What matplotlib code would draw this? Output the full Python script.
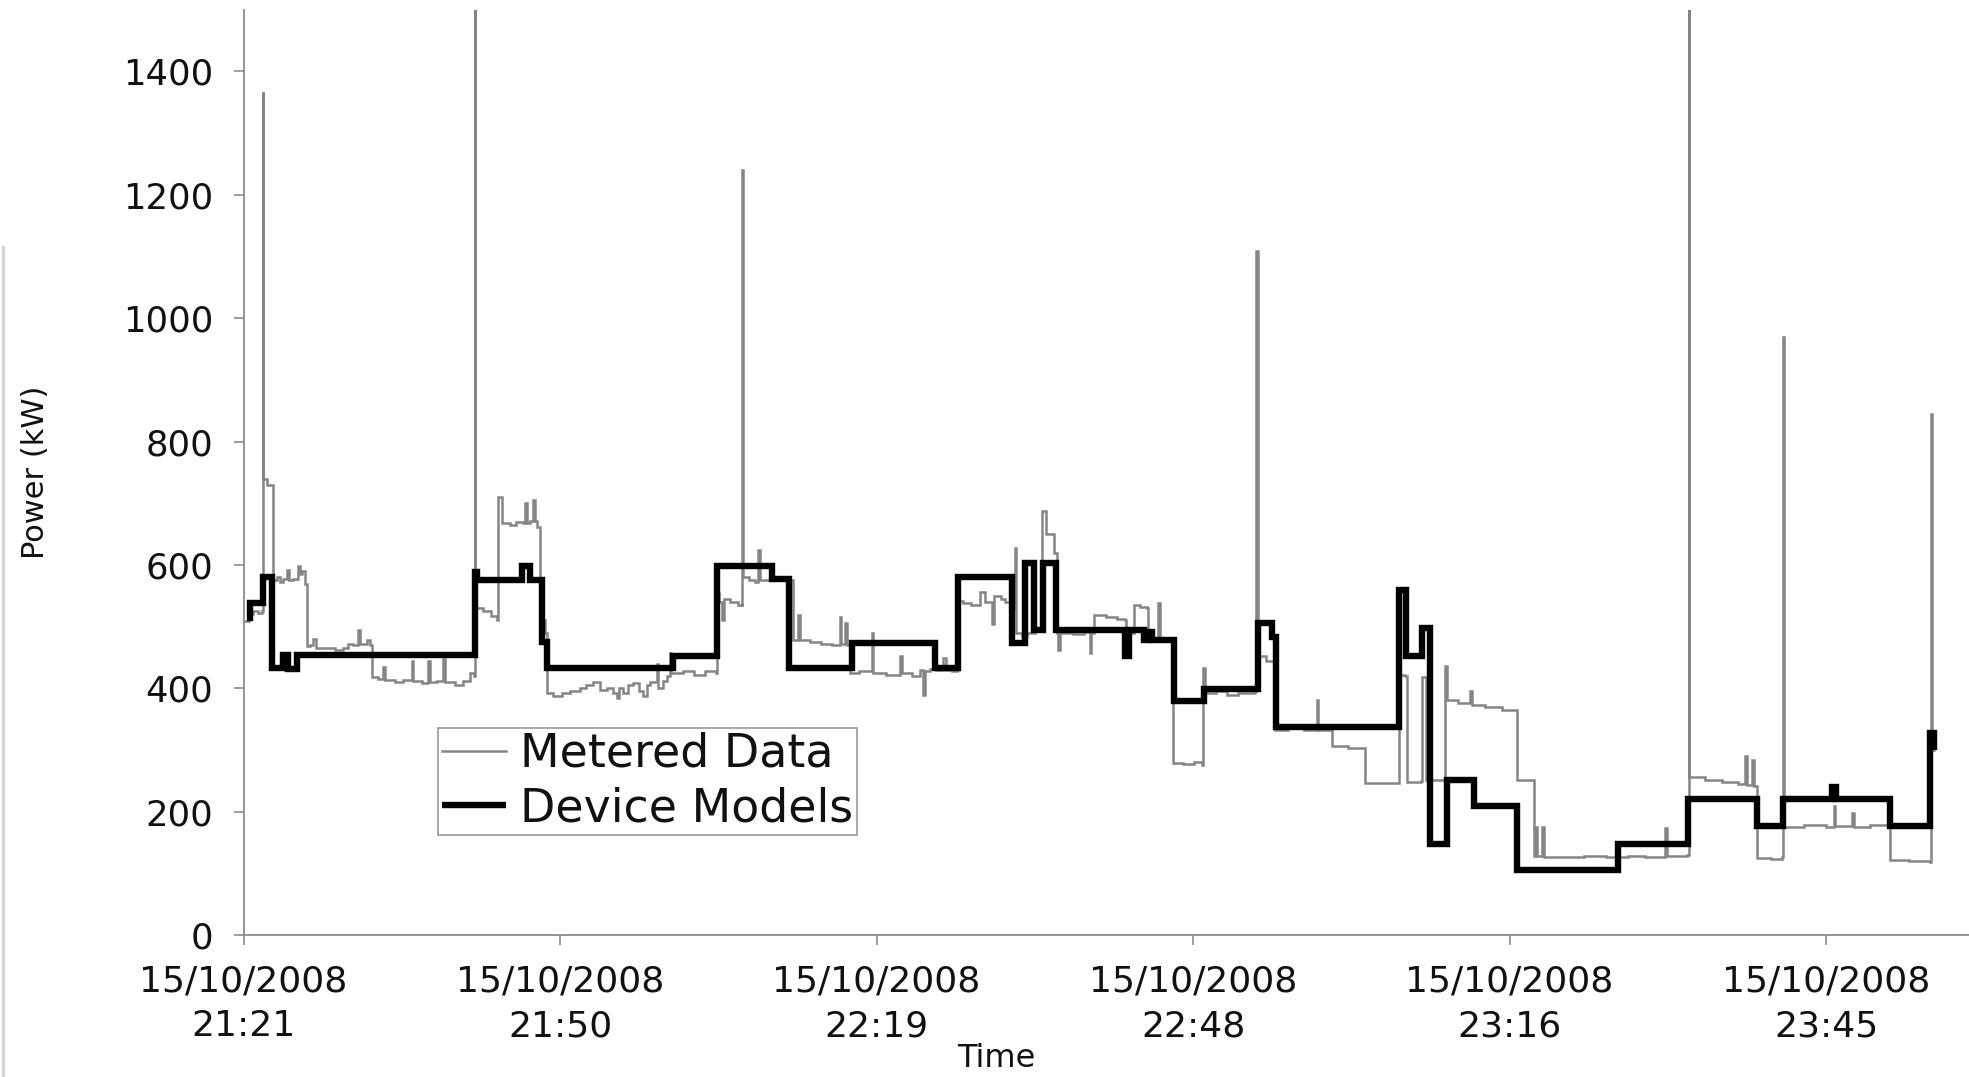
import matplotlib
matplotlib.use('Agg')
import matplotlib.pyplot as plt
import matplotlib.dates as mdates
import pandas as pd
from matplotlib.lines import Line2D

# ---------------- data (minutes after 15/10/2008 21:21:36, kW) ----------------
start_time = '2008-10-15 21:21:36'

metered_min = [
    0.1, 0.5, 0.9, 1.3, 1.70, 1.73, 1.76, 2.1, 2.7, 2.72, 3.0, 3.3, 3.6, 3.92, 4.1, 4.5,
    4.98, 5.1, 5.28, 5.59, 5.74, 6.0, 6.35, 6.6, 7.5, 8.3, 9.08, 9.5, 10.0, 10.44, 10.6,
    11.2, 11.5, 11.66, 12.2, 12.72, 12.9, 13.8, 14.5, 15.3, 15.45, 16.2, 16.81, 16.95,
    17.6, 18.18, 18.35, 19.2, 20.0, 20.6, 21.0, 21.06, 21.1, 21.8, 22.5, 23.03, 23.18,
    23.49, 24.2, 24.8, 25.46, 25.61, 25.8, 26.1, 26.37, 26.5, 26.67, 27.0, 27.13, 27.4,
    27.58, 28.2, 29.0, 29.7, 30.62, 31.2, 31.83, 32.4, 33.04, 33.6, 33.95, 34.2, 34.56,
    35.0, 35.47, 36.0, 36.38, 36.7, 36.99, 37.59, 37.7, 38.2, 38.5, 38.81, 38.9, 40.0,
    41.0, 42.0, 43.0, 43.05, 43.3, 43.51, 43.7, 44.3, 45.0, 45.33, 45.39, 45.45, 46.0,
    46.5, 46.85, 47.0, 48.0, 49.73, 50.03, 50.49, 50.6, 51.5, 52.5, 53.5, 54.28, 54.4,
    54.74, 54.9, 55.19, 56.0, 57.16, 57.3, 58.5, 59.74, 59.9, 60.8, 61.56, 61.86, 62.0,
    62.5, 63.0, 63.68, 63.9, 64.5, 64.9, 65.05, 65.5, 66.2, 67.02, 67.5, 68.08, 68.3,
    68.9, 69.3, 69.75, 70.2, 70.3, 70.8, 71.27, 72.0, 72.63, 73.0, 73.7, 74.0, 74.15,
    74.3, 75.5, 76.5, 77.03, 77.15, 77.34, 78.5, 79.5, 80.22, 80.25, 80.98, 81.6, 82.19,
    82.3, 83.25, 83.4, 84.0, 84.46, 84.6, 85.5, 86.5, 87.19, 87.34, 87.45, 88.5, 89.5,
    90.5, 91.5, 92.05, 92.14, 92.3, 93.0, 93.72, 93.87, 95.0, 96.5, 97.66, 97.8, 98.5,
    99.02, 100.5, 102.0, 102.06, 103.5, 105.0, 105.09, 105.7, 105.86, 107.1, 107.22,
    107.5, 107.6, 108.3, 109.34, 109.35, 109.5, 110.5, 111.62, 111.77, 113.0, 114.5,
    115.86, 115.9, 117.2, 117.39, 117.54, 117.7, 118.14, 118.3, 120.0, 122.0, 124.0,
    126.0, 127.5, 129.37, 129.5, 131.3, 131.49, 131.55, 133.0, 134.5, 136.0, 136.65,
    136.8, 137.25, 137.4, 137.71, 137.75, 139.0, 139.98, 140.07, 140.15, 142.0, 144.0,
    144.69, 144.8, 146.36, 146.5, 148.0, 149.8, 149.84, 151.5, 153.45, 153.54, 153.6,
    153.8]
metered_kw = [
    510, 520, 525, 522, 525, 1367, 740, 730, 727, 575, 580, 572, 578, 592, 575, 578,
    598, 585, 590, 570, 468, 470, 480, 466, 465, 463, 466, 472, 470, 495, 472,
    478, 470, 419, 415, 435, 414, 410, 413, 444, 412, 408, 444, 410,
    412, 447, 410, 405, 412, 425, 420, 1620, 530, 525, 518, 511, 711,
    668, 665, 670, 668, 700, 668, 672, 706, 672, 662, 560, 511, 489,
    392, 388, 392, 395, 400, 405, 410, 398, 400, 392, 385, 400, 392,
    405, 408, 395, 388, 405, 410, 440, 400, 412, 420, 457, 425, 428,
    422, 428, 425, 554, 540, 511, 545, 540, 535, 533, 1241, 580, 575,
    572, 625, 575, 578, 575, 479, 519, 478, 475, 472, 470, 516, 472,
    506, 470, 425, 428, 490, 425, 422, 452, 425, 420, 430, 390, 428,
    432, 430, 449, 430, 428, 430, 541, 538, 535, 557, 540, 505, 550,
    545, 540, 530, 627, 490, 485, 490, 495, 687, 650, 619, 490, 463,
    490, 488, 492, 457, 490, 519, 515, 512, 511, 490, 535, 532, 530,
    479, 538, 479, 480, 479, 279, 277, 280, 276, 433, 392, 395, 390,
    393, 392, 395, 1109, 452, 445, 441, 333, 335, 333, 381, 333, 332,
    306, 304, 303, 246, 247, 246, 422, 420, 249, 250, 419,
    418, 252, 252, 252, 436, 381, 376, 395, 373, 370, 365,
    363, 252, 252, 128, 176, 128, 176, 126, 127, 128, 126,
    128, 127, 174, 128, 130, 1620, 257, 252, 248, 245, 290,
    244, 284, 241, 240, 125, 124, 126, 970, 176, 178, 176,
    209, 177, 198, 176, 178, 176, 122, 120, 118, 844, 300,
    305]

device_min = [0.27, 0.57, 1.79, 2.56, 3.60, 4.07, 4.83, 21.06, 21.26, 25.30, 26.06,
              27.13, 27.59, 39.11, 43.05, 48.06, 49.67, 55.34, 62.93, 65.05, 69.94,
              71.09, 71.89, 72.75, 73.94, 80.17, 80.57, 81.89, 82.29, 82.63, 84.62,
              87.35, 92.29, 93.57, 93.94, 105.10, 105.79, 107.22, 107.98, 109.50,
              111.98, 115.86, 125.10, 131.46, 137.71, 140.11, 144.5, 144.9, 149.83,
              153.49, 153.8]
device_kw = [514, 538, 581, 433, 454, 432, 454, 588, 576, 598, 576,
             476, 433, 452, 599, 577, 433, 474, 433, 581, 473,
             603, 495, 603, 495, 452, 495, 479, 492, 479, 379,
             399, 506, 484, 338, 560, 452, 498, 147, 252,
             209, 105, 147, 220, 177, 220, 240, 220, 177,
             328, 300]

tick_times = ['2008-10-15 21:21:36', '2008-10-15 21:50:24', '2008-10-15 22:19:12',
              '2008-10-15 22:48:00', '2008-10-15 23:16:48', '2008-10-15 23:45:36']
y_ticks = [0, 200, 400, 600, 800, 1000, 1200, 1400]
series_names = ['Metered Data', 'Device Models']
x_title = 'Time'
y_title = 'Power (kW)'

# ---------------- build ----------------
t0 = pd.Timestamp(start_time)
metered_time = (t0 + pd.to_timedelta(metered_min, unit='m')).to_numpy()
device_time = (t0 + pd.to_timedelta(device_min, unit='m')).to_numpy()
ticks = pd.to_datetime(tick_times).to_numpy()

plt.rcParams['font.family'] = ['DejaVu Sans']

fig = plt.figure(figsize=(19.69, 10.77), dpi=100)
ax = fig.add_axes([0.1237, 0.1317, 0.8763, 0.8592])

ax.step(metered_time, metered_kw, where='post', color='#858585', lw=1.8,
        label=series_names[0], solid_joinstyle='miter', zorder=2)
ax.step(device_time, device_kw, where='post', color='black', lw=4.6,
        label=series_names[1], solid_joinstyle='miter', solid_capstyle='butt', zorder=3)

ax.set_ylim(0, 1500)
ax.set_xlim(t0, t0 + pd.Timedelta(minutes=157))
ax.set_yticks(y_ticks)
ax.set_xticks(ticks)
ax.xaxis.set_major_formatter(mdates.DateFormatter('%d/%m/%Y\n%H:%M'))

for s in ['top', 'right']:
    ax.spines[s].set_visible(False)
for s in ['left', 'bottom']:
    ax.spines[s].set_color('#8c8c8c')
    ax.spines[s].set_linewidth(1.3)

ax.tick_params(axis='y', direction='out', length=7, width=1.2, color='#8c8c8c',
               labelsize=25.5, pad=15, labelcolor='#111111')
ax.tick_params(axis='x', direction='out', length=7, width=1.2, color='#8c8c8c',
               labelsize=26, pad=14, labelcolor='#111111')
for lab in ax.get_xticklabels():
    lab.set_linespacing(1.4)

ax.set_xlabel(x_title, fontsize=23, color='#111111')
ax.xaxis.set_label_coords(0.436, -0.117)
ax.set_ylabel(y_title, fontsize=22, color='#111111')
ax.yaxis.set_label_coords(-0.112, 0.5)

leg = ax.legend(loc='lower left', bbox_to_anchor=(0.1128, 0.1085), borderaxespad=0,
                fontsize=33, frameon=True, fancybox=False, framealpha=1,
                edgecolor='#9a9a9a', handlelength=1.4, handletextpad=0.3,
                borderpad=0.08, labelspacing=0.2)
leg.get_frame().set_linewidth(1.2)
for txt in leg.get_texts():
    txt.set_color('#111111')

# faint scan edge line on the far left of the original picture
fig.add_artist(Line2D([0.0015, 0.0015], [0.0, 0.771], transform=fig.transFigure,
                      color='#d5d5d5', lw=2.5))

fig.savefig('out.png', dpi=100)
